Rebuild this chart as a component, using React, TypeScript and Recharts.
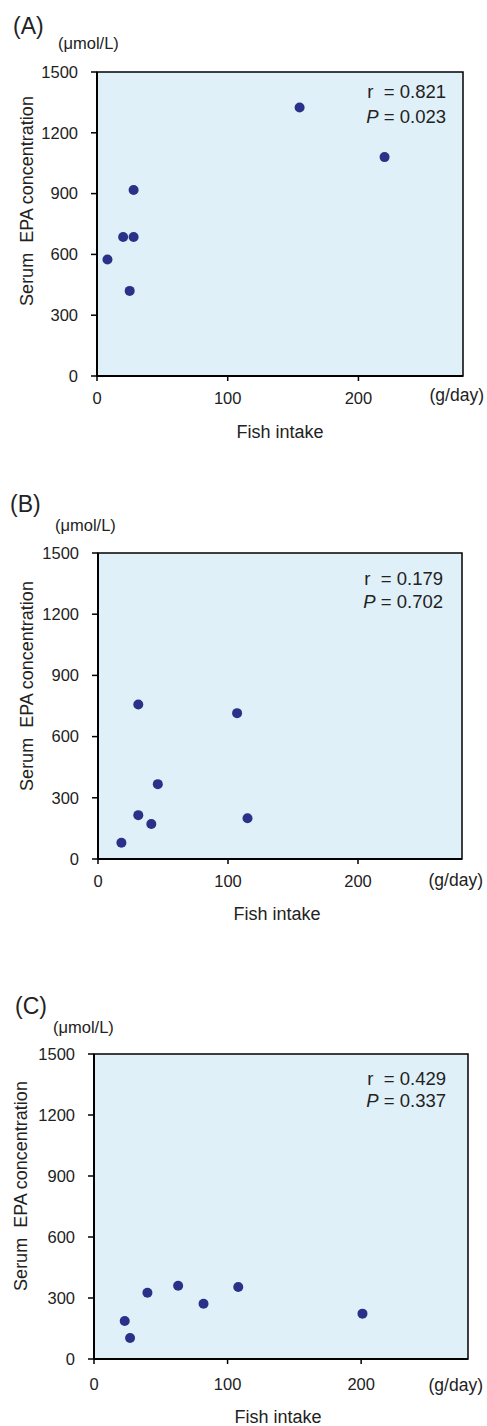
import React from 'react'
import { ScatterChart, Scatter, XAxis, YAxis, ReferenceArea } from 'recharts'

const panelLabels = ['(A)', '(B)', '(C)']
const rValues = ['0.821', '0.179', '0.429']
const pValues = ['0.023', '0.702', '0.337']

const fishA = [8, 20, 28, 28, 25, 155, 220]
const epaA = [575, 686, 686, 918, 420, 1325, 1080]
const fishB = [18, 31, 41, 46, 31, 107, 115]
const epaB = [80, 215, 172, 367, 757, 715, 200]
const fishC = [23, 27, 40, 63, 82, 108, 201]
const epaC = [187, 103, 326, 360, 272, 354, 223]

const xTicks = [0, 100, 200]
const yTicks = [0, 300, 600, 900, 1200, 1500]

const FONT = '"Liberation Sans", Arial, sans-serif'
const INK = '#222'
const DOT = '#2a3188'

// layout of each panel (pixel positions, not data)
const layouts = [
  { top: 0, height: 470, margin: { top: 72, left: 37, right: 24, bottom: 64 }, title: [13, 34], unit: [58, 49], yLab: [33, 201], stat: [446, 98, 123], gday: [484, 401], fish: [280, 438] },
  { top: 470, height: 480, margin: { top: 83, left: 38, right: 25, bottom: 61 }, title: [10, 42], unit: [55, 61], yLab: [33, 216], stat: [443, 115, 138], gday: [483, 416], fish: [277, 450] },
  { top: 950, height: 476, margin: { top: 104, left: 34, right: 19, bottom: 37 }, title: [15, 64], unit: [53, 83], yLab: [27, 236], stat: [446, 135, 157], gday: [483, 441], fish: [278, 473] },
]

const series = [
  fishA.map((f, i) => ({ fish: f, epa: epaA[i] })),
  fishB.map((f, i) => ({ fish: f, epa: epaB[i] })),
  fishC.map((f, i) => ({ fish: f, epa: epaC[i] })),
]

const Dot = (props: any) => <circle cx={props.cx} cy={props.cy} r={5} fill={DOT} />

function Panel({ idx }: { idx: number }) {
  const L = layouts[idx]
  // correlation text drawn with the plot background so it sits above it
  const statLabel = () => (
    <g>
      <text x={L.stat[0]} y={L.stat[1]} fontSize={18.5} fontFamily={FONT} fill={INK} textAnchor="end" style={{ whiteSpace: 'pre' }}>
        {`r  = ${rValues[idx]}`}
      </text>
      <text x={L.stat[0]} y={L.stat[2]} fontSize={18.5} fontFamily={FONT} fill={INK} textAnchor="end">
        <tspan fontStyle="italic">P</tspan> = {pValues[idx]}
      </text>
    </g>
  )
  return (
    <div style={{ position: 'absolute', left: 0, top: L.top }}>
      <ScatterChart width={487} height={L.height} margin={L.margin}>
        <ReferenceArea
          x1={0}
          x2={280}
          y1={0}
          y2={1500}
          fill="#dff0f8"
          fillOpacity={1}
          stroke="#000"
          strokeWidth={1.5}
          label={statLabel}
        />
        <XAxis
          type="number"
          dataKey="fish"
          domain={[0, 280]}
          ticks={xTicks}
          height={30}
          tickSize={5}
          tickMargin={idx === 2 ? 14 : 11}
          axisLine={{ stroke: '#000', strokeWidth: 2 }}
          tickLine={{ stroke: '#000', strokeWidth: 1.5 }}
          tick={{ fill: INK, fontSize: 16.5, fontFamily: FONT }}
        />
        <YAxis
          type="number"
          dataKey="epa"
          domain={[0, 1500]}
          ticks={yTicks}
          width={60}
          tickSize={6}
          tickMargin={13}
          axisLine={{ stroke: '#000', strokeWidth: 2 }}
          tickLine={{ stroke: '#000', strokeWidth: 1.5 }}
          tick={{ fill: INK, fontSize: 16.5, fontFamily: FONT }}
        />
        <Scatter data={series[idx]} shape={Dot} isAnimationActive={false} />
        <text x={L.title[0]} y={L.title[1]} fontSize={23} fontFamily={FONT} fill={INK}>{panelLabels[idx]}</text>
        <text x={L.unit[0]} y={L.unit[1]} fontSize={16.5} fontFamily={FONT} fill={INK}>(μmol/L)</text>
        <text
          x={L.yLab[0]}
          y={L.yLab[1]}
          fontSize={18}
          fontFamily={FONT}
          fill={INK}
          textAnchor="middle"
          transform={`rotate(-90 ${L.yLab[0]} ${L.yLab[1]})`}
          style={{ whiteSpace: 'pre' }}
        >
          Serum  EPA concentration
        </text>
        <text x={L.gday[0]} y={L.gday[1]} fontSize={17.5} fontFamily={FONT} fill={INK} textAnchor="end">(g/day)</text>
        <text x={L.fish[0]} y={L.fish[1]} fontSize={18} fontFamily={FONT} fill={INK} textAnchor="middle">Fish intake</text>
      </ScatterChart>
    </div>
  )
}

export default function App() {
  return (
    <div style={{ position: 'absolute', left: 0, top: 0, width: 487, height: 1426, background: '#fff' }}>
      <Panel idx={0} />
      <Panel idx={1} />
      <Panel idx={2} />
    </div>
  )
}
